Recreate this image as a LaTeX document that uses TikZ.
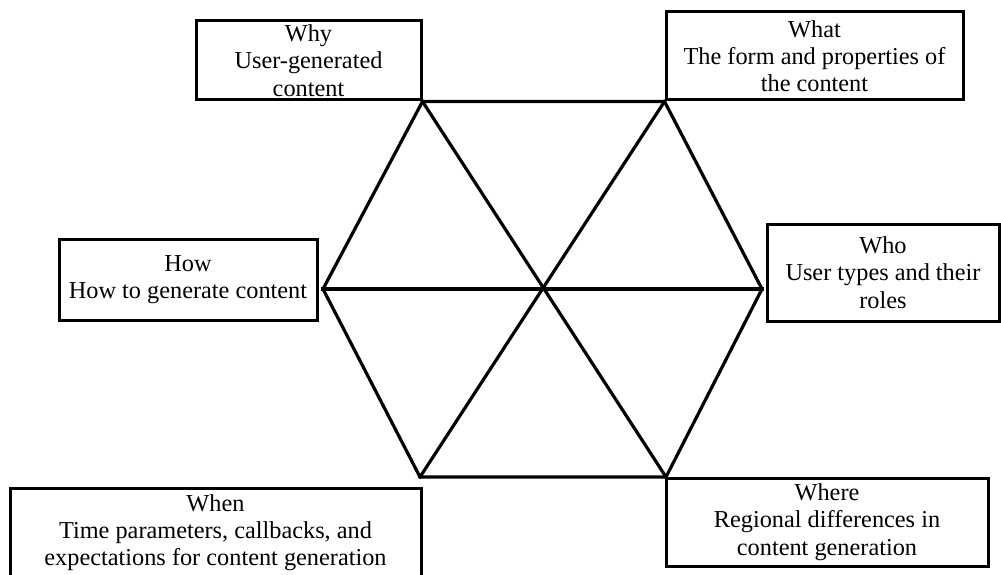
\documentclass[tikz,border=0pt]{standalone}
\usepackage{fontspec}
\setmainfont{Liberation Serif}
\begin{document}
\begin{tikzpicture}[x=1pt,y=-1pt,
  boxline/.style={line width=3pt},
  box/.style={draw, boxline, inner sep=0pt, align=center, font=\fontsize{24.3}{27.3}\selectfont},
  txt/.style={inner sep=0pt, align=center, font=\fontsize{24.3}{27.3}\selectfont},
  hexline/.style={line width=3.2pt, line join=miter, line cap=rect}]
\useasboundingbox (0,0) rectangle (1001,575);
\clip (0,0) rectangle (1001,575);
% boxes
\node[box, minimum width=225pt, minimum height=79pt] (why) at (308.5,60.5) {Why\\User-generated\\content};
\node[box, minimum width=297pt, minimum height=88pt] (what) at (814.5,56) {What\\The form and properties of\\the content};
\node[box, minimum width=258pt, minimum height=81pt] (how) at (188,279.5) {How\\How to generate content};
\node[box, minimum width=232pt, minimum height=97pt] (who) at (883,272.5) {Who\\User types and their\\roles};
\node[box, minimum width=322pt, minimum height=88pt] (where) at (827,522) {Where\\Regional differences in\\content generation};
\node[draw, boxline, minimum width=411pt, minimum height=130pt, anchor=north, inner sep=0pt] (when) at (215.5,487) {};
\node[txt, anchor=north] (whentext) at ([yshift=-7pt]when.north) {When\\Time parameters, callbacks, and\\expectations for content generation};
% hexagon vertices
\coordinate (TL) at (why.south east);
\coordinate (TR) at (what.south west);
\coordinate (R) at (762,289);
\coordinate (BR) at (666,477);
\coordinate (BL) at (420,477);
\coordinate (L) at (323,289);
\coordinate (C) at (542.5,289);
% hexagon
\draw[hexline] (TL) -- (TR) -- (R) -- (BR) -- (BL) -- (L) -- cycle;
\draw[hexline] (TL) -- (BR);
\draw[hexline] (TR) -- (BL);
\draw[hexline] (L) -- (R);
\end{tikzpicture}
\end{document}
